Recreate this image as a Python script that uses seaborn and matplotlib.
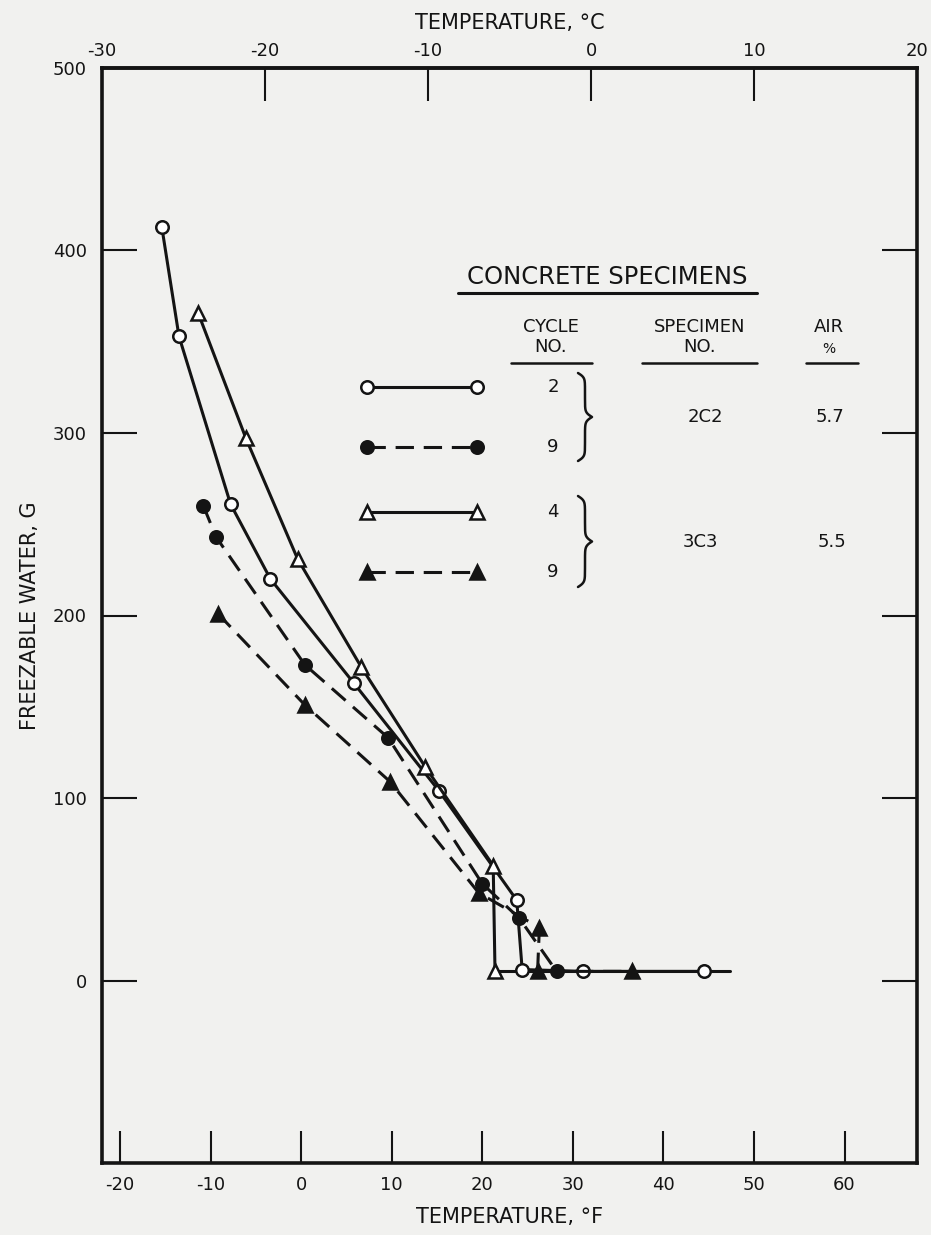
import numpy as np
import matplotlib
matplotlib.use("Agg")
import matplotlib.pyplot as plt
import seaborn as sns
from matplotlib.lines import Line2D

# values: temperature (deg F) vs freezable water (g)
c2_temp = [-15.4, -13.5, -7.8, -3.4, 5.8, 15.2, 23.8, 24.4, 31.1, 44.5]
c2_water = [413, 353, 261, 220, 163, 104, 44, 6, 5, 5]

c9a_temp = [-10.8, -9.4, 0.4, 9.6, 20.0, 24.1, 28.2]
c9a_water = [260, 243, 173, 133, 53, 34, 5]

c4_temp = [-11.4, -6.1, -0.4, 6.6, 13.7, 21.2, 21.4]
c4_water = [366, 297, 231, 172, 117, 63, 5]

c9b_temp = [-9.2, 0.4, 9.8, 19.6, 26.3, 26.1, 36.5]
c9b_water = [201, 151, 109, 48, 29, 5, 5]

base_temp = [21.4, 47.4]
base_water = [5, 5]

f_ticks = [-20, -10, 0, 10, 20, 30, 40, 50, 60]
c_ticks = [-30, -20, -10, 0, 10, 20]
g_ticks = [0, 100, 200, 300, 400, 500]

cycles = ["2", "9", "4", "9"]
specimens = ["2C2", "3C3"]
air = ["5.7", "5.5"]

paper = "#f1f1ef"
ink = "#141414"

sns.set_theme(style="ticks")
plt.rcParams["font.family"] = ["DejaVu Sans"]
plt.rcParams["axes.unicode_minus"] = False

W, H = 931, 1235
fig = plt.figure(figsize=(W / 100, H / 100), dpi=100, facecolor=paper)
ax = fig.add_axes([102 / W, 1 - 1163 / H, 815 / W, 1095 / H])
ax.set_facecolor(paper)

styles = [
    (c2_temp, c2_water, "o", "white", "-", 9),
    (c9a_temp, c9a_water, "o", ink, (0, (6, 3.2)), 9),
    (c4_temp, c4_water, "^", "white", "-", 9.5),
    (c9b_temp, c9b_water, "^", ink, (0, (6, 3.2)), 9.5),
]

sns.lineplot(x=base_temp, y=base_water, ax=ax, sort=False, estimator=None,
             color=ink, linewidth=2.2)
for xs, ys, m, fc, ls, ms in styles:
    sns.lineplot(x=xs, y=ys, ax=ax, sort=False, estimator=None, color=ink,
                 linewidth=2.2, linestyle=ls, marker=m, markersize=ms,
                 markerfacecolor=fc, markeredgecolor=ink, markeredgewidth=1.8)

ax.set_xlim(-22, 68)
ax.set_ylim(-100, 500)
ax.set_xticks(f_ticks)
ax.set_yticks(g_ticks)
for s in ax.spines.values():
    s.set_visible(True)
    s.set_linewidth(2.6)
    s.set_color(ink)
ax.tick_params(axis="x", direction="in", length=23, width=1.5, pad=9,
               labelsize=13, colors=ink)
ax.tick_params(axis="y", direction="in", length=25, width=1.5, pad=11,
               labelsize=13, colors=ink, right=True)
ax.set_xlabel("TEMPERATURE, °F", fontsize=15, labelpad=10, color=ink)
ax.set_ylabel("FREEZABLE WATER, G", fontsize=15, labelpad=9, color=ink)

top = ax.secondary_xaxis("top", functions=(lambda f: (f - 32) / 1.8,
                                           lambda c: c * 1.8 + 32))
top.set_xticks(c_ticks)
top.tick_params(direction="in", length=24, width=1.5, pad=6, labelsize=13,
                colors=ink)
top.spines["top"].set_linewidth(2.6)
top.set_xlabel("TEMPERATURE, °C", fontsize=15, labelpad=9, color=ink)


# legend block, drawn in pixel positions of the figure
def P(x, y):
    return x / W, 1 - y / H


def txt(x, y, s, size=13, ha="center"):
    fig.text(*P(x, y), s, fontsize=size, ha=ha, va="center", color=ink)


def hline(x0, x1, y, lw=1.8):
    (a, b), (c, d) = P(x0, y), P(x1, y)
    fig.add_artist(Line2D([a, c], [b, d], transform=fig.transFigure,
                          color=ink, linewidth=lw))


def brace(x0, ytop, ybot, w):
    s = np.linspace(0, 0.5, 120)
    beta = 40
    half = 1 / (1 + np.exp(-beta * (s - s[0]))) + 1 / (1 + np.exp(-beta * (s - s[-1]))) - 0.5
    curve = np.concatenate([half, half[-2::-1]])
    ys = np.linspace(ytop, ybot, len(curve))
    xs = x0 + w * curve
    fig.add_artist(Line2D(xs / W, 1 - ys / H, transform=fig.transFigure,
                          color=ink, linewidth=1.8))


txt(607, 277, "CONCRETE SPECIMENS", size=17.5)
hline(458, 757, 293, lw=2.2)
txt(551, 327, "CYCLE")
txt(551, 347, "NO.")
hline(511, 592, 363)
txt(700, 327, "SPECIMEN")
txt(700, 347, "NO.")
hline(642, 757, 363)
txt(829, 327, "AIR")
txt(829, 349, "%", size=10)
hline(806, 858, 363)

rows = [387, 447, 512, 572]
for (xs, ys, m, fc, ls, ms), yy, cyc in zip(styles, rows, cycles):
    (a, b), (c, d) = P(367, yy), P(477, yy)
    fig.add_artist(Line2D([a, c], [b, d], transform=fig.transFigure,
                          color=ink, linewidth=2.2, linestyle=ls, marker=m,
                          markersize=ms, markerfacecolor=fc,
                          markeredgecolor=ink, markeredgewidth=1.8))
    txt(553, yy, cyc)

brace(578, 373, 461, 14)
brace(578, 496, 587, 14)
txt(705, 417, specimens[0])
txt(830, 417, air[0])
txt(700, 542, specimens[1])
txt(832, 542, air[1])

fig.savefig("out.png", dpi=100, facecolor=paper)
